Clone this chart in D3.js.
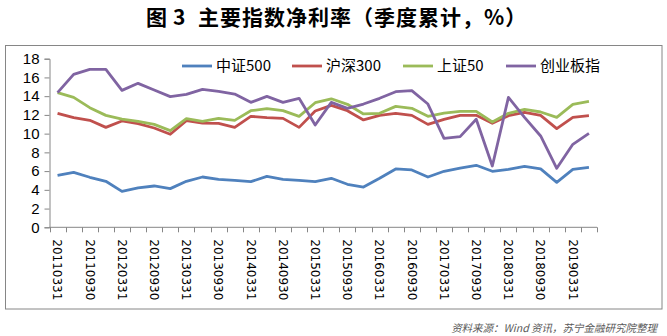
<!DOCTYPE html>
<html><head><meta charset="utf-8">
<script src="https://cdn.jsdelivr.net/npm/d3@7"></script>
<style>
html,body{margin:0;padding:0;background:#fff;}
svg{display:block;}
</style>
</head><body>
<svg id="c" width="667" height="336"></svg>
<script>
const categories = ["20110331","20110630","20110930","20111231","20120331","20120630","20120930","20121231",
"20130331","20130630","20130930","20131231","20140331","20140630","20140930","20141231",
"20150331","20150630","20150930","20151231","20160331","20160630","20160930","20161231",
"20170331","20170630","20170930","20171231","20180331","20180630","20180930","20181231",
"20190331","20190630"];
const zz500 = [5.55,5.87,5.34,4.91,3.84,4.2,4.41,4.13,4.91,5.37,5.12,5.02,4.87,5.44,5.12,5.02,4.87,5.23,4.59,4.3,5.23,6.23,6.12,5.37,5.98,6.33,6.62,5.98,6.19,6.51,6.23,4.8,6.19,6.4];
const hs300 = [12.17,11.7,11.42,10.67,11.35,11.06,10.6,9.93,11.38,11.13,11.1,10.67,11.85,11.7,11.63,10.67,12.42,13.02,12.45,11.46,11.95,12.17,11.95,10.99,11.53,11.95,11.95,11.1,11.92,12.27,11.95,10.53,11.74,11.92];
const sz50 = [14.37,13.87,12.77,11.95,11.56,11.31,10.99,10.32,11.6,11.31,11.63,11.42,12.45,12.66,12.45,11.85,13.3,13.72,13.13,12.1,12.17,12.91,12.7,11.85,12.2,12.38,12.38,11.24,12.17,12.59,12.31,11.74,13.13,13.45];
const cyb = [14.37,16.33,16.86,16.86,14.62,15.37,14.66,13.95,14.19,14.73,14.51,14.23,13.34,13.98,13.34,13.77,10.92,13.34,12.7,13.16,13.77,14.48,14.59,13.16,9.5,9.68,11.53,6.55,13.87,11.74,9.75,6.3,8.86,10.03];
const seriesNames = ["中证500","沪深300","上证50","创业板指"];
const seriesColors = ["#4F81BD","#C0504D","#9BBB59","#8064A2"];
const yTicks = [0,2,4,6,8,10,12,14,16,18];
const xLabelEvery = 2;
const titleText = "主要指数净利率（季度累计，%）";
const sourceText = "资料来源：Wind 资讯，苏宁金融研究院整理";

const svg = d3.select("#c");
const axisColor = "#868686";

// outer border
svg.append("rect").attr("x",5.5).attr("y",45.5).attr("width",656.5).attr("height",263.5)
  .attr("fill","none").attr("stroke",axisColor).attr("stroke-width",1);

// title
const t = svg.append("text").attr("y",25).attr("font-family","'Noto Sans CJK SC'").attr("font-weight","bold")
  .attr("font-size",21).attr("fill","#000");
t.append("tspan").attr("x",146).text("图");
t.append("tspan").attr("x",173).text("3");
t.append("tspan").attr("x",198).attr("letter-spacing",1).text(titleText);

const x = d3.scaleBand().domain(categories).range([49.5,597]).padding(0);
const y = d3.scaleLinear().domain([0,18]).range([227.3,58.7]);
const cx = d => x(d) + x.bandwidth()/2;

// y axis
const yAxis = svg.append("g").attr("transform","translate(49.5,0)")
  .call(d3.axisLeft(y).tickValues(yTicks).tickSize(5).tickPadding(5).tickFormat(d3.format("d")));
yAxis.select(".domain").attr("stroke",axisColor);
yAxis.selectAll(".tick line").attr("stroke",axisColor);
yAxis.selectAll(".tick text").attr("font-family","'Liberation Sans', Arial").attr("font-size",15).attr("fill","#000");

// x axis
const xg = svg.append("g").attr("transform",`translate(0,${y(0)})`);
xg.append("line").attr("x1",49.5).attr("x2",597).attr("y1",0).attr("y2",0).attr("stroke",axisColor);
const bounds = categories.map(d => x(d)).concat([x(categories[categories.length-1]) + x.bandwidth()]);
xg.selectAll("line.tk").data(bounds).enter().append("line").attr("class","tk")
  .attr("x1",d=>Math.round(d)+0.5).attr("x2",d=>Math.round(d)+0.5).attr("y1",0).attr("y2",5).attr("stroke",axisColor);
xg.selectAll("text.lb").data(categories.filter((d,i)=> i % xLabelEvery === 0)).enter().append("text").attr("class","lb")
  .attr("transform",d=>`translate(${cx(d)},12) rotate(90)`)
  .attr("dy","0.35em").attr("text-anchor","start")
  .attr("font-family","'DejaVu Sans'").attr("font-size",12).attr("fill","#000").text(d=>d);

// lines
const data = [zz500, hs300, sz50, cyb];
const line = d3.line().x((d,i)=>cx(categories[i])).y(d=>y(d));
data.forEach((s,k)=>{
  svg.append("path").datum(s).attr("d",line).attr("fill","none")
    .attr("stroke",seriesColors[k]).attr("stroke-width",2.8).attr("stroke-linejoin","round");
});

// legend
const legX = [182,292,403,506];
seriesNames.forEach((n,k)=>{
  const g = svg.append("g").attr("transform",`translate(${legX[k]},66)`);
  g.append("line").attr("x1",0).attr("x2",30).attr("y1",0).attr("y2",0).attr("stroke",seriesColors[k]).attr("stroke-width",2.8);
  g.append("text").attr("x",34).attr("dy","0.36em").attr("font-family","'Noto Sans CJK SC'").attr("font-size",15).attr("fill","#000").text(n);
});

// source
svg.append("text").attr("x",657).attr("y",332).attr("text-anchor","end")
  .attr("font-family","'Noto Sans CJK SC'").attr("font-style","italic").attr("font-size",10.5)
  .attr("fill","#595959").text(sourceText);
</script>
</body></html>
